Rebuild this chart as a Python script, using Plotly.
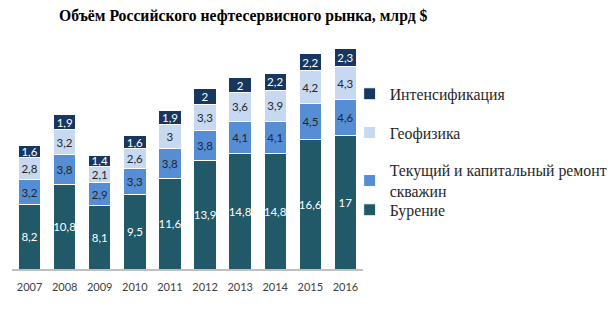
import plotly.graph_objects as go

years = ["2007", "2008", "2009", "2010", "2011", "2012", "2013", "2014", "2015", "2016"]
drilling = [8.2, 10.8, 8.1, 9.5, 11.6, 13.9, 14.8, 14.8, 16.6, 17]
repair = [3.2, 3.8, 2.9, 3.3, 3.8, 3.8, 4.1, 4.1, 4.5, 4.6]
geophysics = [2.8, 3.2, 2.1, 2.6, 3.0, 3.3, 3.6, 3.9, 4.2, 4.3]
stimulation = [1.6, 1.9, 1.4, 1.6, 1.9, 2.0, 2.0, 2.2, 2.2, 2.3]

series = [
    ("Бурение", drilling, "#215968", "white", "legend4"),
    ("Текущий и капитальный ремонт<br>скважин", repair, "#558ED5", "#262626", "legend3"),
    ("Геофизика", geophysics, "#C6D9F1", "#262626", "legend2"),
    ("Интенсификация", stimulation, "#17375E", "white", "legend"),
]

def fmt(v):
    return f"{v:g}".replace(".", ",")

fig = go.Figure()
for name, vals, color, tcolor, leg in series:
    fig.add_trace(go.Bar(
        x=years, y=vals, name=name, showlegend=True,
        marker=dict(color=color, line=dict(color="white", width=1)),
        text=[fmt(v) for v in vals],
        textposition="inside", insidetextanchor="middle", textangle=0,
        textfont=dict(family="Lato", size=11.5, color=tcolor),
        legend=leg,
    ))

L = 12; R = 245; T = 40; B = 44
def py(pix):
    return (313 - B - pix) / (313 - T - B)
lx = 0.962
legfont = dict(family="Liberation Serif", size=15.8, color="#262626")
common = dict(x=lx, xanchor="left", yanchor="middle", font=legfont,
              bgcolor="rgba(0,0,0,0)", itemclick=False)

fig.update_layout(
    width=608, height=313,
    showlegend=True,
    margin=dict(l=L, r=R, t=T, b=B, autoexpand=False),
    paper_bgcolor="white", plot_bgcolor="white",
    barmode="stack", bargap=0.36,
    uniformtext=dict(minsize=11.5, mode="show"),
    title=dict(text="<b>Объём Российского нефтесервисного рынка, млрд $</b>",
               x=0.40, xanchor="center", y=1 - 16 / 313, yanchor="middle",
               font=dict(family="Liberation Serif", size=15.7, color="black")),
    xaxis=dict(showline=True, linecolor="#BFBFBF", linewidth=1.5,
               tickfont=dict(family="Lato", size=11, color="#404040"),
               ticks="outside", ticklen=7, tickcolor="rgba(0,0,0,0)",
               showgrid=False, fixedrange=True, automargin=False),
    yaxis=dict(range=[0, 29.25], visible=False, showgrid=False, automargin=False),
    legend=dict(y=py(94), **common),
    legend2=dict(y=py(132.7), **common),
    legend3=dict(y=py(181), **common),
    legend4=dict(y=py(210), **common),
)

fig.write_html("out.html", config={"displayModeBar": False},
               post_script="document.body.style.margin='0';")
